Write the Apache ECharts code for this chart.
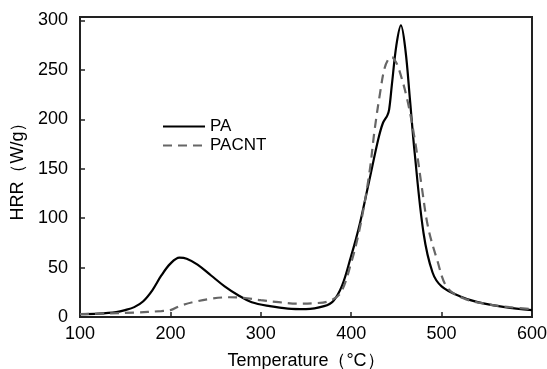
<!DOCTYPE html>
<html><head><meta charset="utf-8">
<script src="https://cdn.jsdelivr.net/npm/echarts@6/dist/echarts.min.js"></script>
<style>html,body{margin:0;padding:0;background:#fff}#c{width:547px;height:369px}</style>
</head><body><div id="c"></div>
<script>
const paT = [100,120,140,150,160,170,180,190,200,210,218,230,245,260,275,290,310,330,350,370,380,390,400,405,410,420,430,435,440,442,445,450,455,460,465,470,480,490,500,520,540,570,600];
const paV = [3,3.5,5,7,10,16,27,42,54,60,59,53,42,31,22,15,11,8.5,8,11,16,32,62,78,96,138,180,196,204,210,235,275,295,270,220,168,85,45,31,21,15,10,7];
const cntT = [100,130,160,190,200,210,225,245,265,280,300,320,340,360,375,388,400,410,420,426,432,437,442,445,448,452,462,471,478,485,495,506,524,550,575,600];
const cntV = [3,3.5,4.5,6,7,11,15,18.5,20,19.5,17,15,13.5,14,16,24,55,92,145,190,227,252,262,263,260,253,220,176,132,91,58,30,19,13,10,8];
const xTicks = [100,200,300,400,500,600];
const yTicks = [0,50,100,150,200,250,300];

const chart = echarts.init(document.getElementById('c'));
const font = 'Liberation Sans, Arial, sans-serif';
chart.setOption({
  animation:false,
  grid:{left:80,right:15,top:17,bottom:52,containLabel:false,outerBoundsMode:'none',
    show:true,borderColor:'#222',borderWidth:2,backgroundColor:'transparent'},
  legend:{
    left:157, top:113, orient:'vertical', itemWidth:42, itemHeight:14, itemGap:2,
    itemStyle:{opacity:0},
    textStyle:{fontFamily:font,fontSize:17,color:'#000'},
    data:[{name:'PA'},{name:'PACNT'}]
  },
  xAxis:{type:'value',min:100,max:600,interval:100,
    name:'Temperature（°C）',nameLocation:'middle',nameGap:35,
    nameTextStyle:{fontFamily:font,fontSize:18,color:'#000'},
    axisLine:{lineStyle:{color:'#222',width:2}},
    axisTick:{inside:true,length:5,lineStyle:{color:'#222',width:1.5}},
    axisLabel:{fontFamily:font,fontSize:18,color:'#000',margin:8},
    splitLine:{show:false}},
  yAxis:{type:'value',min:0,max:303.5,interval:50,
    name:'HRR（W/g）',nameLocation:'middle',nameGap:53,nameRotate:90,
    nameTextStyle:{fontFamily:font,fontSize:18,color:'#000'},
    axisLine:{lineStyle:{color:'#222',width:2}},
    axisTick:{inside:true,length:5,lineStyle:{color:'#222',width:1.5}},
    axisLabel:{fontFamily:font,fontSize:18,color:'#000',margin:12,
      formatter:v=>yTicks.includes(v)?String(v):''},
    splitLine:{show:false}},
  series:[
    {name:'PA',type:'line',symbol:'none',smooth:0.35,
      data:paT.map((t,i)=>[t,paV[i]]),
      itemStyle:{color:'#000'},
      lineStyle:{color:'#000',width:2.2}},
    {name:'PACNT',type:'line',symbol:'none',smooth:0.35,
      data:cntT.map((t,i)=>[t,cntV[i]]),
      itemStyle:{color:'#666'},
      lineStyle:{color:'#666',width:2.2,type:[9,6]}}
  ]
});
</script></body></html>
